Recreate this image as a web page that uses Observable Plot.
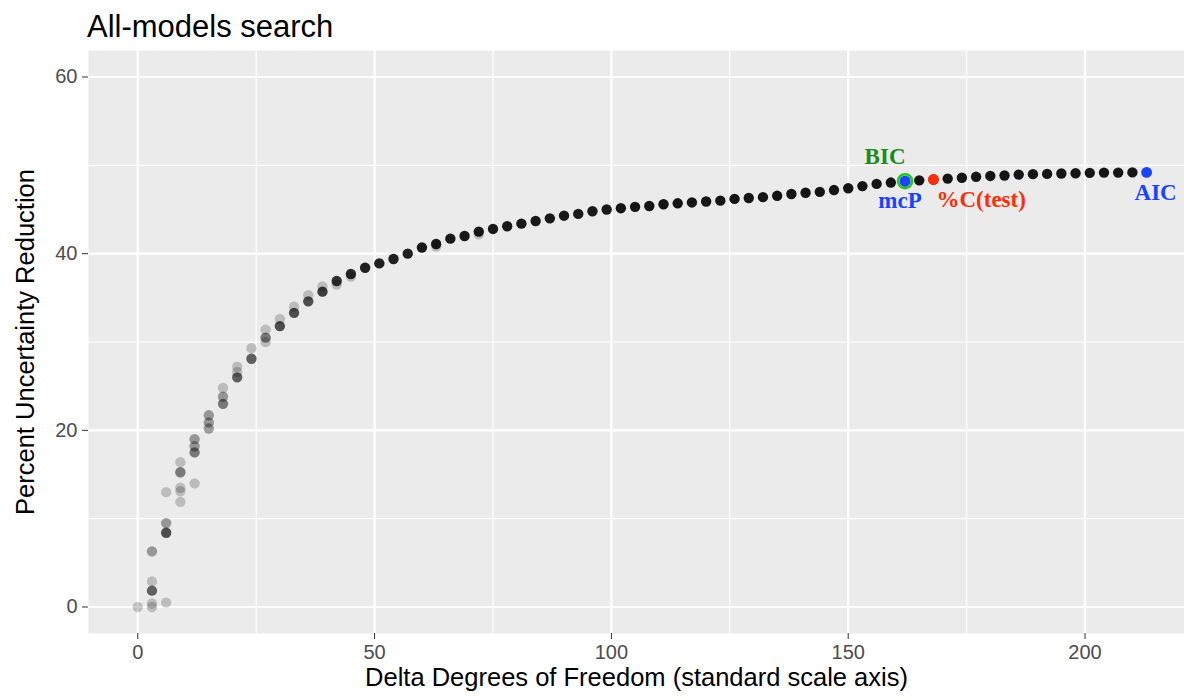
<!DOCTYPE html>
<html><head><meta charset="utf-8">
<script src="https://cdn.jsdelivr.net/npm/d3@7"></script>
<script src="https://cdn.jsdelivr.net/npm/@observablehq/plot@0.6"></script>
<style>
body{margin:0;background:#fff;font-family:"Liberation Sans",Arial,sans-serif;}
#title{height:50px;position:relative;}
#title span{position:absolute;left:87px;top:12px;font-size:31px;line-height:30px;color:#000;white-space:nowrap;}
#chart svg{display:block;overflow:visible;}
</style></head><body>
<div id="title"><span>All-models search</span></div>
<div id="chart"></div>
<script>
// Delta degrees of freedom of each model point
const df = [0,
  3,3,3,3,3,
  6,6,6,6,
  9,9,9,9,9,
  12,12,12,12,
  15,15,15,
  18,18,18,
  21,21,21,
  24,24,
  27,27,27,
  30,30,
  33,33,
  36,36,
  39,39,
  42,42,
  45,45,
  48,51,54,57,60,
  63,63,
  66,69,
  72,72,
  75,78,81,84,87,90,93,96,99,102,105,108,111,114,117,120,123,126,129,132,135,138,141,144,147,150,153,156,159,162,165,168,
  171,174,177,180,183,186,189,192,195,198,201,204,207,210];
// Percent uncertainty reduction of each model point
const pct = [0.0,
  0.0,0.4,1.85,2.9,6.3,
  0.5,8.4,9.5,13.0,
  11.9,13.1,13.5,15.25,16.4,
  14.0,17.5,18.2,19.0,
  20.2,20.9,21.7,
  23.0,23.8,24.8,
  26.0,26.6,27.2,
  28.1,29.3,
  30.0,30.5,31.4,
  31.8,32.6,
  33.3,34.0,
  34.6,35.3,
  35.7,36.3,
  36.9,36.5,
  37.7,37.4,
  38.4,38.9,39.4,40.0,40.7,
  41.1,40.8,
  41.7,42.0,
  42.5,42.2,
  42.8,43.1,43.4,43.7,44.0,44.3,44.5,44.8,45.0,45.15,45.3,45.4,45.6,45.7,45.8,45.9,46.0,46.2,46.3,46.4,46.55,46.75,46.9,47.0,47.2,47.4,47.65,47.9,48.05,48.2,48.3,48.4,
  48.5,48.6,48.7,48.8,48.85,48.95,49.0,49.03,49.07,49.1,49.15,49.18,49.18,49.2];
// Number of models overlapping at each point
const overlap = [1,
  1,1,4,1,2,
  1,5,2,1,
  1,1,1,3,1,
  1,3,2,2,
  2,2,2,
  3,2,1,
  4,1,1,
  4,1,
  1,3,1,
  5,1,
  5,1,
  5,1,
  6,1,
  7,1,
  8,1,
  9,9,9,9,10,
  10,1,
  10,10,
  10,1,
  10,10,10,10,10,10,10,10,10,11,11,11,11,11,11,11,11,11,11,11,11,11,11,11,11,11,11,11,11,11,11,11,
  11,11,11,11,11,11,11,11,11,11,11,11,11,11];

// Selected models
const pickName = ["BIC","mcP","%C(test)","AIC"];
const pickDf   = [162,162,168,213];
const pickPct  = [48.2,48.2,48.4,49.2];

const xMajor = [0,50,100,150,200];
const xMinor = [25,75,125,175];
const yMajor = [0,20,40,60];
const yMinor = [10,30,50];

const xTitle = "Delta Degrees of Freedom (standard scale axis)";
const yTitle = "Percent Uncertainty Reduction";

const points = df.map((d,i)=>({df:d, pct:pct[i], n:overlap[i]}));
const picks = pickName.map((s,i)=>({name:s, df:pickDf[i], pct:pickPct[i]}));

const colorOf = {"BIC":"#1a8c1a","mcP":"#1a44ff","%C(test)":"#ff2d08","AIC":"#1a44ff"};
const ringColor = "#22c922";
const labelStyle = {
  "BIC":{dx:-20,dy:-25,textAnchor:"middle"},
  "mcP":{dx:-5,dy:19,textAnchor:"middle"},
  "%C(test)":{dx:3,dy:20,textAnchor:"start"},
  "AIC":{dx:9,dy:20,textAnchor:"middle"}
};

const labelMarks = picks.map(p => Plot.text([p], {
  x:"df", y:"pct", text:"name", fill: colorOf[p.name],
  fontFamily:"Liberation Serif", fontWeight:"bold", fontSize:23,
  ...labelStyle[p.name]
}));

const chart = Plot.plot({
  width:1184, height:650,
  marginLeft:88, marginRight:0, marginTop:0, marginBottom:67,
  style:{fontFamily:"Liberation Sans, Arial, sans-serif", background:"white", overflow:"visible"},
  x:{domain:[-10.4,221]},
  y:{domain:[-3,63]},
  marks:[
    Plot.frame({fill:"#ebebeb", stroke:"none"}),
    Plot.ruleX(xMinor, {stroke:"white", strokeWidth:1.1}),
    Plot.ruleY(yMinor, {stroke:"white", strokeWidth:1.1}),
    Plot.ruleX(xMajor, {stroke:"white", strokeWidth:2.2}),
    Plot.ruleY(yMajor, {stroke:"white", strokeWidth:2.2}),
    Plot.axisX({ticks:xMajor, tickSize:6, tickPadding:5, fontSize:20, stroke:"#333", fill:"#4d4d4d", label:null, tickFormat:d=>String(d)}),
    Plot.axisY({ticks:yMajor, tickSize:6, tickPadding:5, fontSize:20, stroke:"#333", fill:"#4d4d4d", label:null, tickFormat:d=>String(d)}),
    Plot.dot(points, {x:"df", y:"pct", r:5.2, fill:"black", stroke:"none", fillOpacity:d=>1-Math.pow(0.8,d.n)}),
    Plot.dot(picks.filter(p=>p.name==="BIC"), {x:"df", y:"pct", r:7, fill:"none", stroke:ringColor, strokeWidth:2.6}),
    Plot.dot(picks.filter(p=>p.name!=="BIC"), {x:"df", y:"pct", r:5.4, stroke:"none", fill:d=>colorOf[d.name]}),
    ...labelMarks,
    Plot.text([xTitle], {frameAnchor:"bottom", dy:52, fontSize:25.5, fill:"black", textAnchor:"middle"}),
    Plot.text([yTitle], {frameAnchor:"left", dx:-63, rotate:-90, fontSize:25.5, fill:"black", textAnchor:"middle"})
  ]
});
document.getElementById("chart").appendChild(chart);
</script>
</body></html>
